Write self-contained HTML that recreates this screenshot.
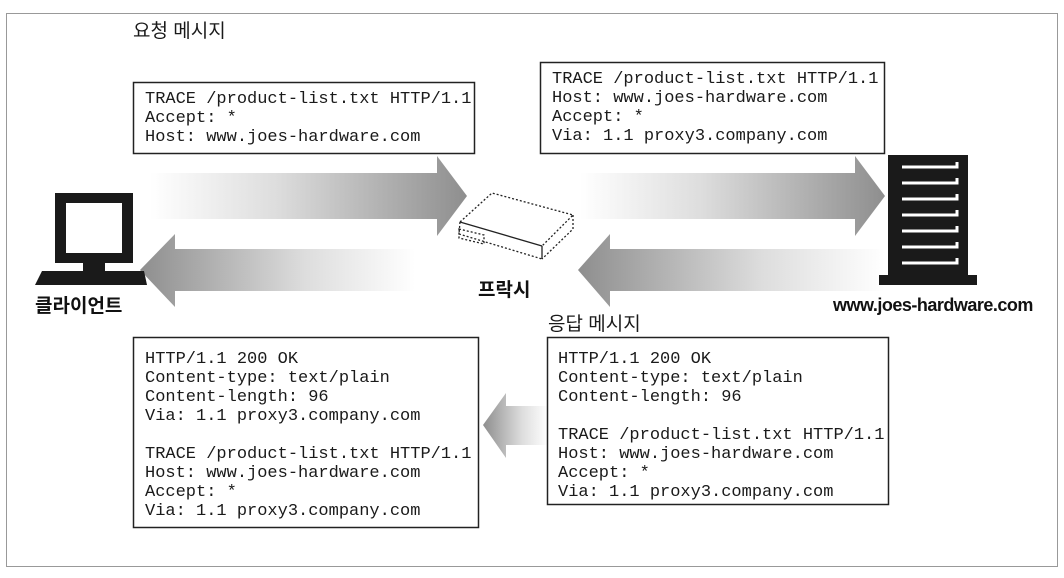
<!DOCTYPE html>
<html><head><meta charset="utf-8"><style>
html,body{margin:0;padding:0;background:#fff;}
svg{display:block;}
.m{font-family:"Liberation Mono",monospace;font-size:17px;fill:#1a1a1a;}
.k{font-family:"Liberation Sans","Noto Sans CJK KR",sans-serif;font-size:19px;fill:#1a1a1a;}
.b{font-family:"Liberation Sans","Noto Sans CJK KR",sans-serif;font-size:19px;font-weight:bold;fill:#111;}
</style></head><body>
<svg width="1064" height="578" viewBox="0 0 1064 578" xmlns="http://www.w3.org/2000/svg">
<defs>
<linearGradient id="gr" x1="0" x2="1" y1="0" y2="0"><stop offset="0" stop-color="#fff"/><stop offset="0.4" stop-color="#ddd"/><stop offset="1" stop-color="#8e8e8e"/></linearGradient>
<linearGradient id="gl" x1="1" x2="0" y1="0" y2="0"><stop offset="0" stop-color="#fff"/><stop offset="0.4" stop-color="#ddd"/><stop offset="1" stop-color="#8e8e8e"/></linearGradient>
</defs>
<rect x="6.5" y="13.5" width="1051" height="553" fill="none" stroke="#999" stroke-width="1"/>

<polygon points="150,173 437,173 437,156 467,196 437,236 437,219 150,219" fill="url(#gr)"/>
<polygon points="580,173 855,173 855,156 885,196 855,236 855,219 580,219" fill="url(#gr)"/>
<polygon points="415,249 175,249 175,234 140,270 175,307 175,291 415,291" fill="url(#gl)"/>
<polygon points="885,249 610,249 610,234 578,270 610,307 610,291 885,291" fill="url(#gl)"/>
<polygon points="548,406 506,406 506,393 483,425 506,458 506,445 548,445" fill="url(#gl)"/>

<text x="133" y="37" class="k">요청 메시지</text>
<text x="548" y="330" class="k">응답 메시지</text>

<rect x="133.5" y="82.5" width="341" height="71" fill="#fff" stroke="#222" stroke-width="1.5"/>
<text class="m"><tspan x="145" y="103">TRACE /product-list.txt HTTP/1.1</tspan><tspan x="145" y="122">Accept: *</tspan><tspan x="145" y="141">Host: www.joes-hardware.com</tspan></text>
<rect x="540.5" y="62.5" width="344" height="91" fill="#fff" stroke="#222" stroke-width="1.5"/>
<text class="m"><tspan x="552" y="83">TRACE /product-list.txt HTTP/1.1</tspan><tspan x="552" y="102">Host: www.joes-hardware.com</tspan><tspan x="552" y="121">Accept: *</tspan><tspan x="552" y="140">Via: 1.1 proxy3.company.com</tspan></text>
<rect x="133.5" y="337.5" width="345" height="190" fill="#fff" stroke="#222" stroke-width="1.5"/>
<text class="m"><tspan x="145" y="363">HTTP/1.1 200 OK</tspan><tspan x="145" y="382">Content-type: text/plain</tspan><tspan x="145" y="401">Content-length: 96</tspan><tspan x="145" y="420">Via: 1.1 proxy3.company.com</tspan><tspan x="145" y="458">TRACE /product-list.txt HTTP/1.1</tspan><tspan x="145" y="477">Host: www.joes-hardware.com</tspan><tspan x="145" y="496">Accept: *</tspan><tspan x="145" y="515">Via: 1.1 proxy3.company.com</tspan></text>
<rect x="547.5" y="337.5" width="341" height="167" fill="#fff" stroke="#222" stroke-width="1.5"/>
<text class="m"><tspan x="558" y="363">HTTP/1.1 200 OK</tspan><tspan x="558" y="382">Content-type: text/plain</tspan><tspan x="558" y="401">Content-length: 96</tspan><tspan x="558" y="439">TRACE /product-list.txt HTTP/1.1</tspan><tspan x="558" y="458">Host: www.joes-hardware.com</tspan><tspan x="558" y="477">Accept: *</tspan><tspan x="558" y="496">Via: 1.1 proxy3.company.com</tspan></text>

<rect x="55" y="193" width="78" height="70" fill="#1a1a1a"/>
<rect x="66" y="203" width="56" height="50" fill="#fff"/>
<rect x="83" y="263" width="22" height="8" fill="#1a1a1a"/>
<polygon points="42,271 144,271 147,285 35,285" fill="#1a1a1a"/>
<text x="35" y="312" class="b">클라이언트</text>

<g fill="none" stroke="#222" stroke-width="1.3">
<polyline points="460,222 492,193 573,215 542,246" stroke-dasharray="2,2"/>
<polyline points="573,215 573,229 542,259" stroke-dasharray="2,2"/>
<polyline points="460,222 459,234 542,259" stroke-dasharray="2,2"/>
<line x1="460" y1="222" x2="542" y2="246"/>
<line x1="542" y1="246" x2="542" y2="259"/>
<polygon points="459,229 484,235 484,244 459,238" stroke-dasharray="2,2"/>
</g>
<text x="478" y="296" class="b">프락시</text>

<rect x="888" y="155" width="80" height="120" fill="#1a1a1a"/>
<rect x="879" y="275" width="98" height="10" fill="#1a1a1a"/>
<g stroke="#fff" stroke-width="3" fill="none">
<polyline points="902,167 957,167 957,162"/>
<polyline points="902,183 957,183 957,178"/>
<polyline points="902,199 957,199 957,194"/>
<polyline points="902,215 957,215 957,210"/>
<polyline points="902,231 957,231 957,226"/>
<polyline points="902,247 957,247 957,242"/>
<polyline points="902,263 957,263 957,258"/>
</g>
<text x="833" y="311" class="b" style="font-size:18px;letter-spacing:-0.5px">www.joes-hardware.com</text>
</svg>
</body></html>
